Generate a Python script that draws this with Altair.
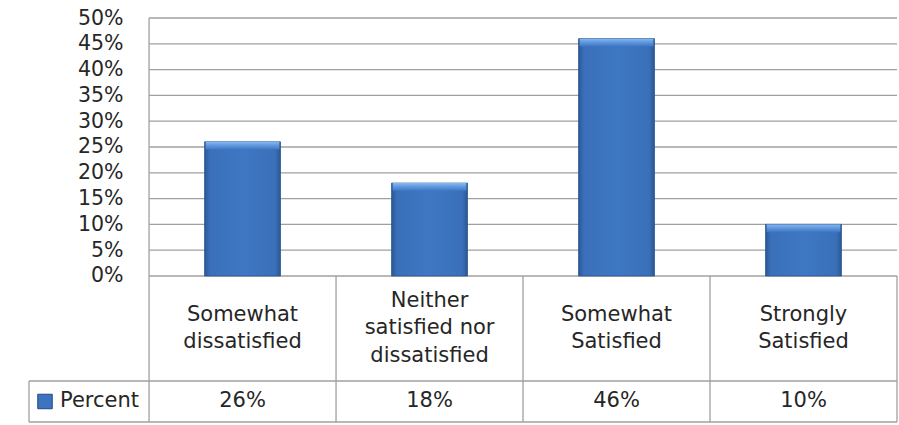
import altair as alt
import pandas as pd

# Survey results
categories = [
    "Somewhat dissatisfied",
    "Neither satisfied nor dissatisfied",
    "Somewhat Satisfied",
    "Strongly Satisfied",
]
category_lines = [
    ["Somewhat", "dissatisfied"],
    ["Neither", "satisfied nor", "dissatisfied"],
    ["Somewhat", "Satisfied"],
    ["Strongly", "Satisfied"],
]
percent = [26, 18, 46, 10]
series_name = "Percent"
y_ticks = [0, 5, 10, 15, 20, 25, 30, 35, 40, 45, 50]

# Layout of the data table under the plot, in axis units
# (each category column is 1 unit wide; y is in percent units)
N = len(categories)
LEGEND_LEFT = -0.642
LABEL_ROW_BOTTOM = -20.35
TABLE_BOTTOM = -28.3
BAR_HALF = 0.203
PX_PER_UNIT_Y = 404 / (50 - TABLE_BOTTOM)
LINE_HEIGHT = 27.5

FONT = "DejaVu Sans"
TEXT = "#262626"
LINE = "#a0a0a0"

x_scale = alt.Scale(domain=[LEGEND_LEFT, N], nice=False, zero=False)
y_scale = alt.Scale(domain=[TABLE_BOTTOM, 50], nice=False, zero=False)

bars = pd.DataFrame({
    "category": categories,
    "idx": list(range(N)),
    "value": percent,
})
bars["x0"] = bars["idx"] + 0.5 - BAR_HALF
bars["x1"] = bars["idx"] + 0.5 + BAR_HALF
bars["cx"] = bars["idx"] + 0.5
bars["lines"] = category_lines
bars["label"] = [f"{v}%" for v in percent]
# first line of each wrapped label, placed so the block is centred in its row
bars["ly"] = [
    LABEL_ROW_BOTTOM / 2 + (len(l) - 1) / 2 * LINE_HEIGHT / PX_PER_UNIT_Y
    for l in category_lines
]
bars["vy"] = (LABEL_ROW_BOTTOM + TABLE_BOTTOM) / 2

# gridlines across the plot area
grid = pd.DataFrame({"y": y_ticks[1:]})
grid["x"] = 0
grid["x2"] = N

# borders of the data table
segments = []
segments.append({"x": 0, "x2": N, "y": 0, "y2": 0})
segments.append({"x": LEGEND_LEFT, "x2": N, "y": LABEL_ROW_BOTTOM, "y2": LABEL_ROW_BOTTOM})
segments.append({"x": LEGEND_LEFT, "x2": N, "y": TABLE_BOTTOM, "y2": TABLE_BOTTOM})
segments.append({"x": 0, "x2": 0, "y": TABLE_BOTTOM, "y2": 50})
for i in range(1, N + 1):
    segments.append({"x": i, "x2": i, "y": TABLE_BOTTOM, "y2": 0})
segments.append({"x": LEGEND_LEFT, "x2": LEGEND_LEFT, "y": TABLE_BOTTOM, "y2": LABEL_ROW_BOTTOM})
table_lines = pd.DataFrame(segments)

X = lambda f: alt.X(f"{f}:Q", scale=x_scale, axis=None)

grid_layer = alt.Chart(grid).mark_rule(color=LINE, strokeWidth=1.3).encode(
    x=X("x"),
    x2="x2:Q",
    y=alt.Y(
        "y:Q",
        scale=y_scale,
        axis=alt.Axis(
            values=y_ticks,
            labelExpr="datum.value + '%'",
            grid=False,
            ticks=False,
            tickSize=0,
            domain=False,
            offset=-120,
            labelPadding=26,
            labelFont=FONT,
            labelFontSize=20.5,
            labelColor=TEXT,
            title=None,
        ),
    ),
)

table_layer = alt.Chart(table_lines).mark_rule(color=LINE, strokeWidth=1.3).encode(
    x=X("x"), x2="x2:Q", y=alt.Y("y:Q", scale=y_scale), y2="y2:Q"
)

bar_fill = alt.Gradient(
    gradient="linear",
    x1=0, y1=0, x2=1, y2=0,
    stops=[
        alt.GradientStop(offset=0.0, color="#2b5894"),
        alt.GradientStop(offset=0.07, color="#3a70b9"),
        alt.GradientStop(offset=0.5, color="#3e77c3"),
        alt.GradientStop(offset=0.93, color="#3a70b9"),
        alt.GradientStop(offset=1.0, color="#2b5894"),
    ],
)

bar_layer = alt.Chart(bars).mark_bar(
    color=bar_fill, stroke="#2a5690", strokeWidth=0.8
).encode(
    x=X("x0"), x2="x1:Q",
    y=alt.Y("value:Q", scale=y_scale), y2=alt.datum(0),
)

# soft highlight along the top edge of each bar
bevel_fill = alt.Gradient(
    gradient="linear",
    x1=0, y1=0, x2=0, y2=1,
    stops=[
        alt.GradientStop(offset=0.0, color="#86b9f2"),
        alt.GradientStop(offset=0.5, color="#5e95dc"),
        alt.GradientStop(offset=1.0, color="#3e77c3"),
    ],
)

bevel_layer = alt.Chart(bars).transform_calculate(
    top_low="datum.value - 1.5"
).mark_bar(color=bevel_fill).encode(
    x=alt.X("bx0:Q", scale=x_scale, axis=None), x2="bx1:Q",
    y=alt.Y("value:Q", scale=y_scale), y2="top_low:Q",
).transform_calculate(
    bx0="datum.x0 + 0.006", bx1="datum.x1 - 0.006"
)

cat_text = alt.Chart(bars).mark_text(
    font=FONT, fontSize=21, color=TEXT, lineHeight=LINE_HEIGHT,
    baseline="middle", align="center"
).encode(
    x=X("cx"),
    y=alt.Y("ly:Q", scale=y_scale),
    text="lines",
)

val_text = alt.Chart(bars).mark_text(
    font=FONT, fontSize=21, color=TEXT, baseline="middle", align="center"
).encode(
    x=X("cx"),
    y=alt.Y("vy:Q", scale=y_scale),
    text="label:N",
)

legend_df = pd.DataFrame({
    "x": [LEGEND_LEFT],
    "y": [(LABEL_ROW_BOTTOM + TABLE_BOTTOM) / 2],
    "name": [series_name],
})

legend_square = alt.Chart(legend_df).mark_square(
    size=210, color="#3d74bf", stroke="#23497e", strokeWidth=1, opacity=1, xOffset=16
).encode(x=X("x"), y=alt.Y("y:Q", scale=y_scale))

legend_text = alt.Chart(legend_df).mark_text(
    font=FONT, fontSize=21, color=TEXT, baseline="middle", align="left", dx=31
).encode(x=X("x"), y=alt.Y("y:Q", scale=y_scale), text="name:N")

chart = alt.layer(
    grid_layer, table_layer, bar_layer, bevel_layer,
    cat_text, val_text, legend_square, legend_text,
).properties(
    width=868,
    height=404,
    autosize=alt.AutoSizeParams(type="none"),
    padding={"left": 29, "top": 18, "right": 2, "bottom": 3},
    background="white",
).configure_view(stroke=None)

chart.save("out.html", embed_options={"renderer": "svg", "actions": False})
